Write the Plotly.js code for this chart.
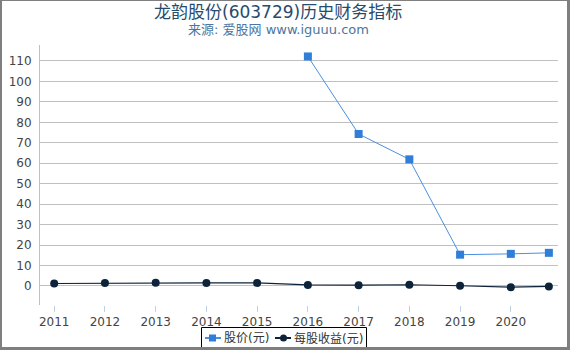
<!DOCTYPE html>
<html><head><meta charset="utf-8">
<script src="https://cdn.plot.ly/plotly-3.0.1.min.js"></script>
<style>
html,body{margin:0;padding:0;background:#fff;}
#wrap{position:relative;width:570px;height:350px;}
#chart{position:absolute;left:0;top:0;width:570px;height:350px;}
#frame{position:absolute;left:0;top:0;width:570px;height:350px;box-sizing:border-box;border-style:solid;border-color:#7f7f7f;border-width:1px 3px 3px 2px;pointer-events:none;}
</style></head>
<body><div id="wrap"><div id="chart"></div><div id="frame"></div></div>
<script>
const priceX = [2016, 2017, 2018, 2019, 2020, 2020.75];
const priceY = [112.2, 74.3, 61.9, 15.3, 15.7, 16.2];
const epsX = [2011, 2012, 2013, 2014, 2015, 2016, 2017, 2018, 2019, 2020, 2020.75];
const epsY = [1.2, 1.4, 1.6, 1.5, 1.5, 0.5, 0.4, 0.6, 0.1, -0.6, -0.2];
const xTicks = [2011, 2012, 2013, 2014, 2015, 2016, 2017, 2018, 2019, 2020];
const yTicks = [0, 10, 20, 30, 40, 50, 60, 70, 80, 90, 100, 110];
const seriesNames = ['股价(元)', '每股收益(元)'];
const titleText = '龙韵股份(603729)历史财务指标';
const subtitleText = '来源: 爱股网 www.iguuu.com';

const font = 'DejaVu Sans, Noto Sans CJK SC, sans-serif';
const PL = 40, PW = 518, PB = 305, PH = 260;
const px = v => (v - PL) / PW;
const py = v => (PB - v) / PH;
const cx = px(278);
const priceColor = '#2f7ed8', priceLine = '#4a90e2', epsColor = '#0d233a';

const data = [
  {x: priceX, y: priceY, name: seriesNames[0], type: 'scatter', mode: 'lines+markers',
   line: {color: priceLine, width: 1}, marker: {symbol: 'square', size: 8, color: priceColor}},
  {x: epsX, y: epsY, name: seriesNames[1], type: 'scatter', mode: 'lines+markers',
   line: {color: epsColor, width: 1.2}, marker: {symbol: 'circle', size: 8, color: epsColor}}
];
const ly = 338;
const shapes = [
  {type: 'rect', xref: 'paper', yref: 'paper', x0: px(201.5), x1: px(366.5), y0: py(327.5), y1: py(347.5),
   line: {color: '#000', width: 1}, fillcolor: '#fff'},
  {type: 'line', xref: 'paper', yref: 'paper', x0: px(205), x1: px(221), y0: py(ly), y1: py(ly), line: {color: priceLine, width: 2}},
  {type: 'rect', xref: 'paper', yref: 'paper', x0: px(209), x1: px(216), y0: py(ly - 3.5), y1: py(ly + 3.5), line: {width: 0}, fillcolor: priceColor},
  {type: 'line', xref: 'paper', yref: 'paper', x0: px(275), x1: px(291), y0: py(ly), y1: py(ly), line: {color: epsColor, width: 2}},
  {type: 'circle', xref: 'paper', yref: 'paper', x0: px(280), x1: px(287), y0: py(ly - 3.5), y1: py(ly + 3.5), line: {width: 0}, fillcolor: epsColor}
];
const layout = {
  width: 570, height: 350,
  margin: {l: 40, r: 12, t: 45, b: 45},
  paper_bgcolor: '#fff', plot_bgcolor: '#fff',
  font: {family: font, size: 12, color: '#444'},
  shapes: shapes,
  annotations: [
    {text: titleText, xref: 'paper', yref: 'paper', x: cx, y: py(12), xanchor: 'center', yanchor: 'middle',
     showarrow: false, font: {family: font, size: 17, color: '#274b6d'}},
    {text: subtitleText, xref: 'paper', yref: 'paper', x: cx, y: py(29), xanchor: 'center', yanchor: 'middle',
     showarrow: false, font: {family: font, size: 13, color: '#4d759e'}},
    {text: seriesNames[0], xref: 'paper', yref: 'paper', x: px(222), y: py(ly), xanchor: 'left', yanchor: 'middle',
     showarrow: false, font: {family: font, size: 12, color: '#333'}},
    {text: seriesNames[1], xref: 'paper', yref: 'paper', x: px(292), y: py(ly), xanchor: 'left', yanchor: 'middle',
     showarrow: false, font: {family: font, size: 12, color: '#333'}}
  ],
  xaxis: {range: [2010.72, 2020.93], tickvals: xTicks, ticktext: xTicks.map(String),
          showgrid: false, zeroline: false, showline: false, automargin: false,
          ticks: 'outside', ticklen: 6, tickcolor: '#c0d0e0', tickfont: {size: 12, color: '#444'}},
  yaxis: {range: [-9.3, 117.8], tickvals: yTicks, showgrid: true, gridcolor: '#c0c0c0', gridwidth: 1, automargin: false,
          zeroline: false, showline: true, linecolor: '#c0c0c0', ticks: 'outside', ticklen: 5, tickcolor: '#fff',
          tickfont: {size: 12, color: '#444'}},
  showlegend: false
};
Plotly.newPlot('chart', data, layout, {displayModeBar: false, staticPlot: true});
</script></body></html>
